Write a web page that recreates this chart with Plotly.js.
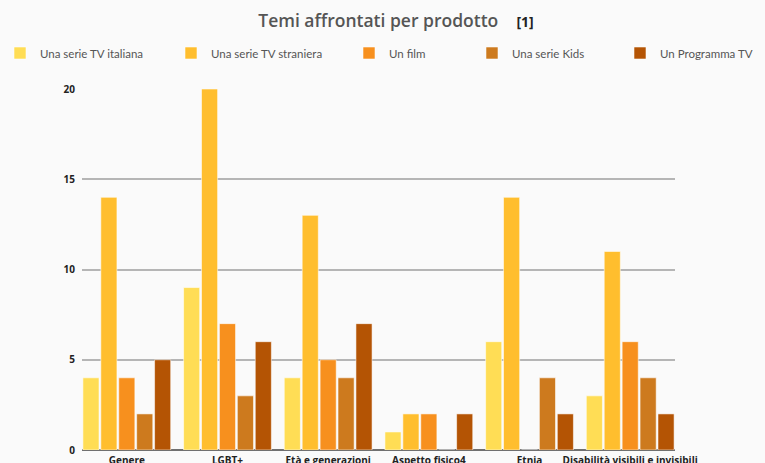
<!DOCTYPE html>
<html>
<head>
<meta charset="utf-8">
<script src="https://cdn.plot.ly/plotly-3.0.1.min.js"></script>
<style>html,body{margin:0;padding:0;background:#fafafa;}#chart{width:765px;height:463px;}</style>
</head>
<body>
<div id="chart"></div>
<script>
var categories = ["Genere", "LGBT+", "Età e generazioni", "Aspetto fisico4", "Etnia", "Disabilità visibili e invisibili"];
var seriesNames = ["Una serie TV italiana", "Una serie TV straniera", "Un film", "Una serie Kids", "Un Programma TV"];
var serieTvItaliana  = [4, 9, 4, 1, 6, 3];
var serieTvStraniera = [14, 20, 13, 2, 14, 11];
var film             = [4, 7, 5, 2, 0, 6];
var serieKids        = [2, 3, 4, 0, 4, 4];
var programmaTv      = [5, 6, 7, 2, 2, 2];
var yTicks = [0, 5, 10, 15, 20];

var seriesValues = [serieTvItaliana, serieTvStraniera, film, serieKids, programmaTv];
var colors = ["#FFDD55", "#FFBE2E", "#F7901E", "#CD7A1E", "#B45404"];
var legendIds = ["legend", "legend2", "legend3", "legend4", "legend5"];
var legendX = [-2, 171, 349, 472, 620];

var traces = seriesValues.map(function(vals, i) {
  return {
    type: "bar",
    name: seriesNames[i],
    x: categories,
    y: vals,
    legend: legendIds[i],
    marker: {color: colors[i], line: {color: "rgba(255,255,255,0.55)", width: 1}},
    hoverinfo: "x+y+name"
  };
});

var layout = {
  width: 765, height: 463,
  paper_bgcolor: "#fafafa", plot_bgcolor: "#fafafa",
  margin: {l: 82, r: 90, t: 89, b: 13},
  barmode: "group", bargap: 0.11, bargroupgap: 0.1,
  title: {
    text: "Temi affrontati per prodotto    <span style='font-size:14px;color:#222'><b>[1]</b></span>",
    font: {family: "Open Sans, sans-serif", size: 17.5, color: "#555", weight: 600},
    x: 396/765, xanchor: "center", xref: "container",
    y: 1 - 21/463, yanchor: "middle", yref: "container"
  },
  xaxis: {
    type: "category",
    range: [-0.445, 5.445],
    showgrid: false, zeroline: false, showline: false, ticks: "",
    ticklabelstandoff: 3,
    tickfont: {family: "Open Sans, sans-serif", size: 10, color: "#222", weight: 700},
    fixedrange: true
  },
  yaxis: {
    range: [0, 20],
    tickvals: yTicks,
    ticktext: yTicks.map(String),
    showgrid: true, gridcolor: "#b5b5b5", gridwidth: 2,
    zeroline: true, zerolinecolor: "#707070", zerolinewidth: 2,
    showline: false, ticks: "",
    ticklabelstandoff: 6,
    tickfont: {family: "Open Sans, sans-serif", size: 10, color: "#222", weight: 700},
    fixedrange: true
  },
  showlegend: true
};

legendIds.forEach(function(id, i) {
  layout[id] = {
    orientation: "h",
    xref: "container", yref: "container",
    x: legendX[i] / 765, xanchor: "left",
    y: 1 - 53/463, yanchor: "middle",
    bgcolor: "rgba(0,0,0,0)",
    font: {family: "Lato, sans-serif", size: 11.5, color: "#555"}
  };
});

Plotly.newPlot("chart", traces, layout, {displayModeBar: false, staticPlot: true});
</script>
</body>
</html>
